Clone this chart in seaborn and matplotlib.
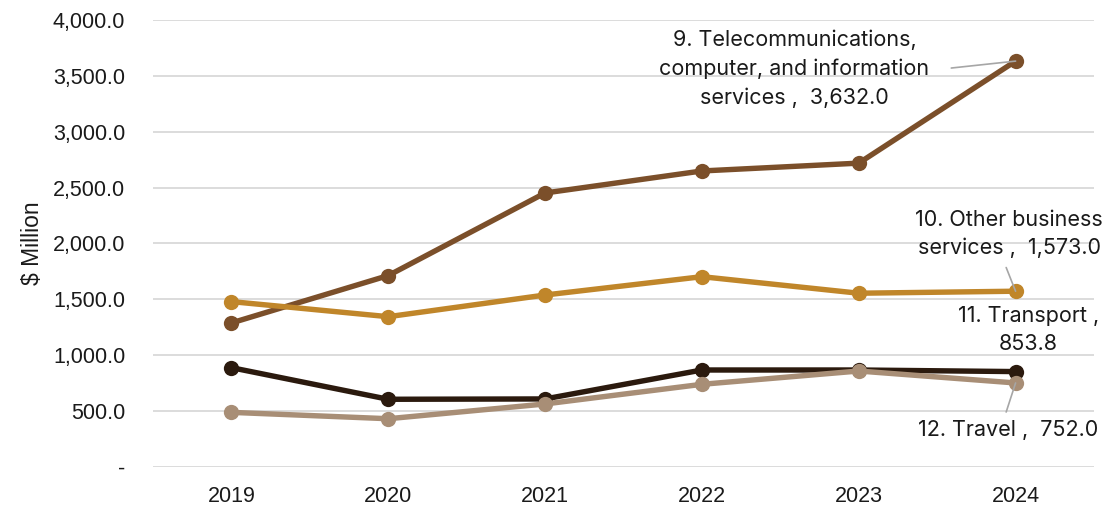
import matplotlib
matplotlib.use("Agg")
import matplotlib.pyplot as plt
import seaborn as sns
import pandas as pd
from matplotlib.ticker import FuncFormatter

years = ["2019", "2020", "2021", "2022", "2023", "2024"]
telecom = [1289, 1713, 2452, 2649, 2719, 3632.0]
other_business = [1480, 1345, 1539, 1703, 1555, 1573.0]
transport = [889, 606, 609, 868, 868, 853.8]
travel = [489, 432, 564, 740, 859, 752.0]

series_names = [
    "9. Telecommunications, computer, and information services",
    "10. Other business services",
    "11. Transport",
    "12. Travel",
]
series_values = [telecom, other_business, transport, travel]
colors = ["#7B4F2A", "#C0862A", "#2B1A0E", "#A88E76"]

rows = []
for name, vals in zip(series_names, series_values):
    for i, (yr, v) in enumerate(zip(years, vals)):
        rows.append({"series": name, "pos": i, "year": yr, "value": v})
df = pd.DataFrame(rows)

sns.set_theme(style="white")
plt.rcParams["font.family"] = ["Inter", "DejaVu Sans"]
tick_font = ["Liberation Sans", "DejaVu Sans"]

fig = plt.figure(figsize=(11.11, 5.11), dpi=100)
ax = fig.add_axes([0.1377, 0.0861, 0.847, 0.8748])

for name, col in zip(series_names, colors):
    sub = df[df["series"] == name]
    sns.lineplot(data=sub, x="pos", y="value", ax=ax, color=col, linewidth=3.9,
                 marker="o", markersize=11, markeredgewidth=0, legend=False)

ax.set_xlim(-0.5, 5.5)
ax.set_ylim(0, 4000)
ax.set_yticks(range(0, 4001, 500))
ax.yaxis.set_major_formatter(FuncFormatter(lambda v, p: "-" if v == 0 else f"{v:,.1f}"))
ax.set_xticks(range(len(years)))
ax.set_xticklabels(years)
ax.grid(axis="y", color="#D9D9D9", linewidth=1.3)
ax.set_axisbelow(True)
for s in ax.spines.values():
    s.set_visible(False)
ax.tick_params(axis="both", length=0, labelsize=15.5, colors="#1a1a1a")
ax.tick_params(axis="x", pad=14)
ax.tick_params(axis="y", pad=20)
for t in ax.get_xticklabels() + ax.get_yticklabels():
    t.set_fontfamily(tick_font)
ax.set_xlabel("")
ax.set_ylabel("$ Million", fontsize=16.5, color="#1a1a1a", labelpad=6,
              fontfamily=tick_font)

lead = dict(arrowstyle="-", color="#A6A6A6", lw=1.2, shrinkA=0, shrinkB=0)
txt = dict(fontsize=15.5, color="#1a1a1a", ha="center", va="center",
           linespacing=1.5, annotation_clip=False)

ax.annotate(f"9. Telecommunications,\ncomputer, and information\nservices ,  {telecom[-1]:,.1f}",
            xy=(5, telecom[-1]), xytext=(3.59, 3565), **txt)
ax.annotate("", xy=(5, telecom[-1]), xytext=(4.59, 3570), arrowprops=lead, annotation_clip=False)

ax.annotate(f"10. Other business\nservices ,  {other_business[-1]:,.1f}",
            xy=(5, other_business[-1]), xytext=(4.96, 2085), **txt)
ax.annotate("", xy=(5, other_business[-1]), xytext=(4.94, 1785), arrowprops=lead, annotation_clip=False)

ax.annotate(f"11. Transport ,\n{transport[-1]:,.1f}",
            xy=(5, transport[-1]), xytext=(5.08, 1225), **txt)

ax.annotate(f"12. Travel ,  {travel[-1]:,.1f}",
            xy=(5, travel[-1]), xytext=(4.95, 331), **txt)
ax.annotate("", xy=(5, travel[-1]), xytext=(4.94, 492), arrowprops=lead, annotation_clip=False)

fig.savefig("out.png", dpi=100)
